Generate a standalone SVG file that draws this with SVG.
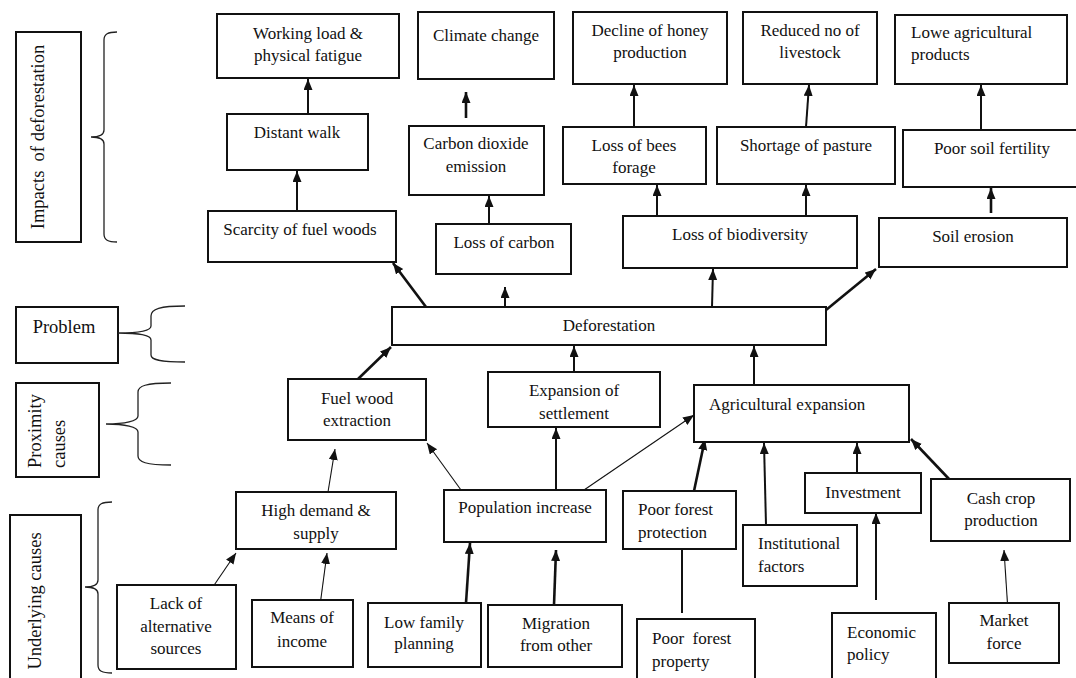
<svg xmlns="http://www.w3.org/2000/svg" width="1076" height="678" viewBox="0 0 1076 678">
<style>
.b{fill:#fff;stroke:#111;stroke-width:2}
.t{font-family:"Liberation Serif","Times New Roman",serif;font-size:17px;fill:#111}
.c{text-anchor:middle}
.l{font-family:"Liberation Serif","Times New Roman",serif;font-size:18.5px;fill:#111;white-space:pre}
.br{fill:none;stroke:#222;stroke-width:1.3}
.a{fill:none;stroke:#111;marker-end:url(#ah)}
.w1{stroke-width:1.1}
.w2{stroke-width:2}
.w3{stroke-width:2.6}
</style>
<defs>
<marker id="ah" markerUnits="userSpaceOnUse" markerWidth="12" markerHeight="10" refX="11" refY="4.5" orient="auto">
<path d="M0,0 L11,4.5 L0,9 z" fill="#111"/>
</marker>
</defs>
<rect width="1076" height="678" fill="#fff"/>

<g id="labels">
<g id="lbl-impacts"><rect class="b" x="16" y="32" width="65" height="210"/><text class="l c" xml:space="preserve" transform="translate(44,137) rotate(-90)">Impacts  of deforestation</text></g>
<path class="br" d="M117,32 C108,32 104,34 104,40 L104,130 C104,135 98,137 91,137 C98,137 104,139 104,144 L104,234 C104,240 108,242 117,242"/>
<g id="lbl-problem"><rect class="b" x="16" y="307" width="102" height="56"/><text class="l c" x="64" y="333">Problem</text></g>
<path class="br" d="M185,306 C160,306 151,309 151,316 L151,326 C151,331 140,333 118,333 C140,333 151,335 151,340 L151,355 C151,360 160,362 185,362"/>
<g id="lbl-proximity"><rect class="b" x="16" y="383" width="83" height="94"/><text class="l" transform="translate(41,468) rotate(-90)">Proximity</text><text class="l" transform="translate(65,468) rotate(-90)">causes</text></g>
<path class="br" d="M171,383 C146,383 138,386 138,392 L138,416 C138,421 125,424 106,424 C125,424 138,427 138,432 L138,456 C138,462 146,465 171,465"/>
<g id="lbl-underlying"><rect class="b" x="10" y="515" width="71" height="175"/><text class="l c" transform="translate(41,601) rotate(-90)">Underlying causes</text></g>
<path class="br" d="M112,502 C102,502 98,504 98,510 L98,580 C98,585 92,587 85,587 C92,587 98,589 98,594 L98,665 C98,671 102,673 112,673"/>
</g>

<g id="connectors">
<line class="a w2" x1="297" y1="211" x2="297" y2="171"/>
<line class="a w2" x1="308" y1="114" x2="308" y2="79"/>
<line class="a w3" x1="466" y1="118" x2="466" y2="92"/>
<line class="a w2" x1="489" y1="228" x2="489" y2="196"/>
<line class="a w2" x1="505" y1="322" x2="505" y2="287"/>
<line class="a w3" x1="426" y1="307" x2="393" y2="263"/>
<line class="a w2" x1="634" y1="127" x2="634" y2="85"/>
<line class="a w2" x1="806" y1="127" x2="809" y2="85"/>
<line class="a w2" x1="657" y1="216" x2="657" y2="185"/>
<line class="a w2" x1="806" y1="216" x2="806" y2="185"/>
<line class="a w2" x1="981" y1="130" x2="981" y2="85"/>
<line class="a w3" x1="991" y1="213" x2="991" y2="188"/>
<line class="a w2" x1="712" y1="307" x2="713" y2="269"/>
<line class="a w3" x1="826" y1="310" x2="876" y2="269"/>
<line class="a w3" x1="358" y1="379" x2="391" y2="347"/>
<line class="a w2" x1="574" y1="372" x2="574" y2="346"/>
<line class="a w2" x1="754" y1="385" x2="754" y2="346"/>
<line class="a w1" x1="461" y1="490" x2="427" y2="443"/>
<line class="a w2" x1="556" y1="490" x2="556" y2="428"/>
<line class="a w1" x1="584" y1="490" x2="694" y2="415"/>
<line class="a w1" x1="328" y1="492" x2="335" y2="449"/>
<line class="a w1" x1="206" y1="597" x2="236" y2="553"/>
<line class="a w1" x1="319" y1="613" x2="327" y2="553"/>
<line class="a w3" x1="466" y1="603" x2="470" y2="543"/>
<line class="a w3" x1="554" y1="605" x2="556" y2="550"/>
<line class="a w3" x1="694" y1="491" x2="705" y2="439"/>
<line class="a w2" x1="766" y1="525" x2="764" y2="443"/>
<line class="a w2" x1="857" y1="483" x2="857" y2="443"/>
<line class="a w2" x1="876" y1="600" x2="876" y2="513"/>
<line class="a w3" x1="949" y1="479" x2="911" y2="439"/>
<line class="a w1" x1="1009" y1="627" x2="1004" y2="550"/>
<line x1="682" y1="613" x2="682" y2="549" stroke="#111" stroke-width="2"/>
</g>

<g id="n-working"><rect class="b" x="217" y="14" width="182" height="64"/><text class="t c" x="308" y="39">Working load &amp;</text><text class="t c" x="308" y="61">physical fatigue</text></g>
<g id="n-climate"><rect class="b" x="418" y="12" width="136" height="67"/><text class="t c" x="486" y="41">Climate change</text></g>
<g id="n-honey"><rect class="b" x="573" y="12" width="154" height="72"/><text class="t c" x="650" y="36">Decline of honey</text><text class="t c" x="650" y="58">production</text></g>
<g id="n-livestock"><rect class="b" x="743" y="12" width="134" height="72"/><text class="t c" x="810" y="36">Reduced no of</text><text class="t c" x="810" y="58">livestock</text></g>
<g id="n-lowe"><rect class="b" x="895" y="15" width="172" height="69"/><text class="t" x="911" y="38">Lowe agricultural</text><text class="t" x="911" y="60">products</text></g>
<g id="n-walk"><rect class="b" x="227" y="114" width="141" height="56"/><text class="t c" x="297" y="138">Distant walk</text></g>
<g id="n-co2"><rect class="b" x="409" y="126" width="135" height="69"/><text class="t c" x="476" y="149">Carbon dioxide</text><text class="t c" x="476" y="172">emission</text></g>
<g id="n-bees"><rect class="b" x="563" y="127" width="143" height="57"/><text class="t c" x="634" y="151">Loss of bees</text><text class="t c" x="634" y="173">forage</text></g>
<g id="n-pasture"><rect class="b" x="717" y="127" width="178" height="57"/><text class="t c" x="806" y="151">Shortage of pasture</text></g>
<g id="n-fertility"><rect class="b" x="903" y="130" width="180" height="57"/><text class="t c" x="992" y="154">Poor soil fertility</text></g>
<g id="n-scarcity"><rect class="b" x="208" y="211" width="188" height="51"/><text class="t c" x="300" y="235">Scarcity of fuel woods</text></g>
<g id="n-carbon"><rect class="b" x="436" y="224" width="135" height="50"/><text class="t c" x="504" y="248">Loss of carbon</text></g>
<g id="n-biodiv"><rect class="b" x="623" y="216" width="234" height="52"/><text class="t c" x="740" y="240">Loss of biodiversity</text></g>
<g id="n-erosion"><rect class="b" x="879" y="218" width="188" height="49"/><text class="t c" x="973" y="242">Soil erosion</text></g>
<g id="n-deforestation"><rect class="b" x="392" y="307" width="434" height="38"/><text class="t c" x="609" y="331">Deforestation</text></g>
<g id="n-fuelwood"><rect class="b" x="288" y="379" width="138" height="61"/><text class="t c" x="357" y="404">Fuel wood</text><text class="t c" x="357" y="426">extraction</text></g>
<g id="n-settlement"><rect class="b" x="488" y="372" width="172" height="55"/><text class="t c" x="574" y="396">Expansion of</text><text class="t c" x="574" y="419">settlement</text></g>
<g id="n-agric"><rect class="b" x="694" y="385" width="215" height="57"/><text class="t" x="709" y="410">Agricultural expansion</text></g>
<g id="n-demand"><rect class="b" x="236" y="492" width="160" height="57"/><text class="t c" x="316" y="516">High demand &amp;</text><text class="t c" x="316" y="539">supply</text></g>
<g id="n-population"><rect class="b" x="444" y="490" width="162" height="52"/><text class="t c" x="525" y="513">Population increase</text></g>
<g id="n-protection"><rect class="b" x="623" y="491" width="113" height="58"/><text class="t" x="638" y="515">Poor forest</text><text class="t" x="638" y="538">protection</text></g>
<g id="n-institutional"><rect class="b" x="743" y="525" width="114" height="61"/><text class="t" x="758" y="549">Institutional</text><text class="t" x="758" y="572">factors</text></g>
<g id="n-investment"><rect class="b" x="805" y="473" width="116" height="40"/><text class="t c" x="863" y="498">Investment</text></g>
<g id="n-cashcrop"><rect class="b" x="931" y="479" width="139" height="62"/><text class="t c" x="1001" y="504">Cash crop</text><text class="t c" x="1001" y="526">production</text></g>
<g id="n-lack"><rect class="b" x="117" y="585" width="119" height="84"/><text class="t c" x="176" y="609">Lack of</text><text class="t c" x="176" y="632">alternative</text><text class="t c" x="176" y="654">sources</text></g>
<g id="n-means"><rect class="b" x="252" y="600" width="101" height="67"/><text class="t c" x="302" y="623">Means of</text><text class="t c" x="302" y="647">income</text></g>
<g id="n-lowfamily"><rect class="b" x="368" y="603" width="113" height="64"/><text class="t c" x="424" y="628">Low family</text><text class="t c" x="424" y="649">planning</text></g>
<g id="n-migration"><rect class="b" x="488" y="605" width="134" height="62"/><text class="t c" x="556" y="629">Migration</text><text class="t c" x="556" y="651">from other</text></g>
<g id="n-property"><rect class="b" x="637" y="619" width="118" height="75"/><text class="t" x="652" y="644" xml:space="preserve" style="white-space:pre">Poor  forest</text><text class="t" x="652" y="667">property</text></g>
<g id="n-economic"><rect class="b" x="832" y="613" width="104" height="80"/><text class="t" x="847" y="638">Economic</text><text class="t" x="847" y="660">policy</text></g>
<g id="n-market"><rect class="b" x="949" y="603" width="110" height="60"/><text class="t c" x="1004" y="626">Market</text><text class="t c" x="1004" y="649">force</text></g>
</svg>
